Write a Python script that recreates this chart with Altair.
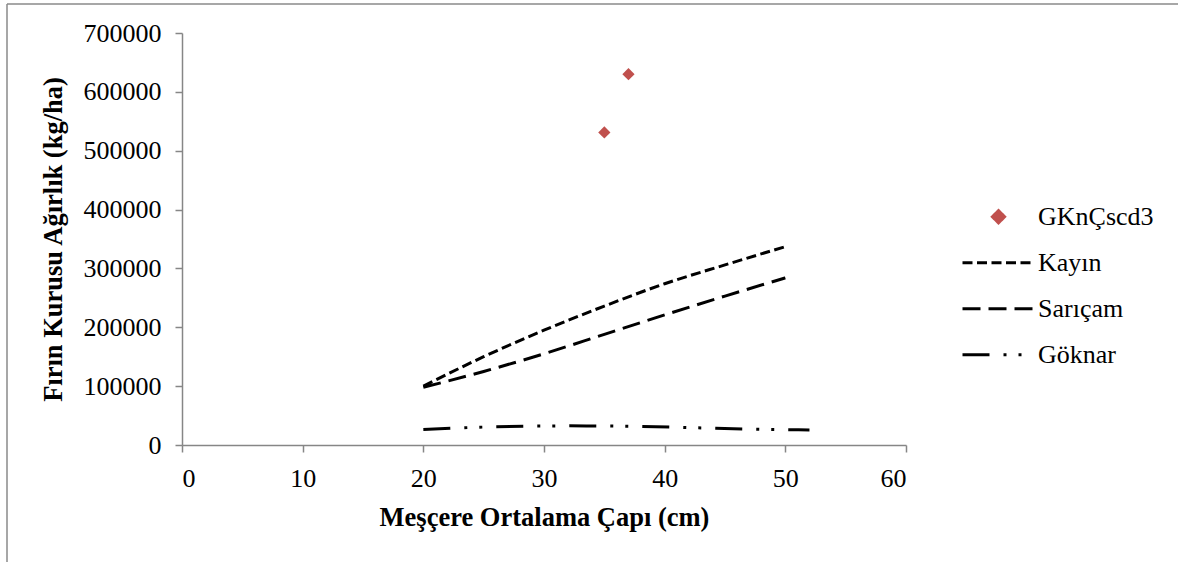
import altair as alt
import pandas as pd

series_names = ["GKnÇscd3", "Kayın", "Sarıçam", "Göknar"]

obs_x = [35, 37]
obs_y = [531000, 630000]

kayin_x = [20, 25, 30, 35, 40, 45, 50]
kayin_y = [100000, 150000, 195000, 236000, 274000, 306000, 337000]

saricam_x = [20, 25, 30, 35, 40, 45, 50]
saricam_y = [98000, 125000, 155000, 188000, 221000, 253000, 284000]

goknar_x = [20, 26, 32, 38, 44, 50, 52]
goknar_y = [26500, 31000, 32500, 31500, 28500, 26000, 25500]

x_ticks = [0, 10, 20, 30, 40, 50, 60]
y_ticks = [0, 100000, 200000, 300000, 400000, 500000, 600000, 700000]

pts = pd.DataFrame({"x": obs_x, "y": obs_y, "series": series_names[0]})
lines = pd.concat([
    pd.DataFrame({"x": kayin_x, "y": kayin_y, "series": series_names[1]}),
    pd.DataFrame({"x": saricam_x, "y": saricam_y, "series": series_names[2]}),
    pd.DataFrame({"x": goknar_x, "y": goknar_y, "series": series_names[3]}),
])

FONT = "Liberation Serif"
diamond = "M0,-0.17L0.17,0L0,0.17L-0.17,0Z"

color_scale = alt.Scale(domain=series_names, range=["#C0504D", "black", "black", "black"])
shape_scale = alt.Scale(domain=series_names, range=[diamond, "stroke", "stroke", "stroke"])
dash_scale = alt.Scale(domain=series_names, range=[[1, 0], [10, 4.5], [18, 8], [27, 14, 3, 12, 3, 14]])

legend = alt.Legend(title=None, orient="none", legendX=779, legendY=161,
                    labelFont=FONT, labelFontSize=26, labelColor="black",
                    symbolSize=5184, symbolStrokeWidth=3, rowPadding=0, clipHeight=45.5,
                    labelOffset=2)

xenc = alt.X("x:Q", scale=alt.Scale(domain=[0, 60]),
             axis=alt.Axis(values=x_ticks, title="Meşçere Ortalama Çapı (cm)"))
yenc = alt.Y("y:Q", scale=alt.Scale(domain=[0, 700000]),
             axis=alt.Axis(values=y_ticks, format="d", title="Fırın Kurusu Ağırlık (kg/ha)"))

line_layer = alt.Chart(lines).mark_line(strokeWidth=3, interpolate="monotone").encode(
    x=xenc, y=yenc,
    color=alt.Color("series:N", scale=color_scale, legend=legend),
    strokeDash=alt.StrokeDash("series:N", scale=dash_scale, legend=legend),
    detail="series:N",
)

point_layer = alt.Chart(pts).mark_point(filled=True, size=5184, opacity=1).encode(
    x=xenc, y=yenc,
    color=alt.Color("series:N", scale=color_scale, legend=legend),
    shape=alt.Shape("series:N", scale=shape_scale, legend=legend),
    strokeDash=alt.StrokeDash("series:N", scale=dash_scale, legend=legend),
)

frame_df = pd.DataFrame({"a": [0]})
left_border = alt.Chart(frame_df).mark_rule(color="#8a8a8a", strokeWidth=1.5).encode(
    x=alt.value(-175), y=alt.value(-29), y2=alt.value(529))
top_border = alt.Chart(frame_df).mark_rule(color="#8a8a8a", strokeWidth=1.5).encode(
    x=alt.value(-175), x2=alt.value(996), y=alt.value(-29))

chart = alt.layer(line_layer, point_layer, left_border, top_border).properties(
    width=724, height=412,
    autosize=alt.AutoSizeParams(type="none"),
    padding={"left": 182, "top": 33, "right": 272, "bottom": 117},
    background="white",
).configure_view(stroke=None).configure_axis(
    grid=False,
    domainColor="#868686", domainWidth=1.5,
    tickColor="#868686", tickWidth=1.5, tickSize=7,
    labelFont=FONT, labelFontSize=26, labelColor="black",
    titleFont=FONT, titleFontSize=26.5, titleFontWeight="bold", titleColor="black",
).configure_axisY(labelPadding=14, titlePadding=16).configure_axisX(labelPadding=13, titlePadding=13)

chart.save("out.html", embed_options={"renderer": "svg", "actions": False})
